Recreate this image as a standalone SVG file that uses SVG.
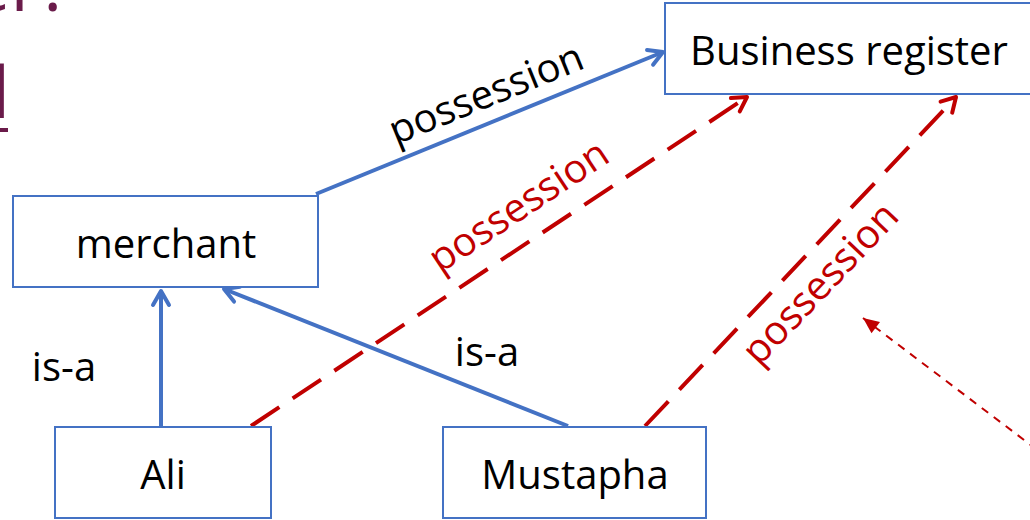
<svg xmlns="http://www.w3.org/2000/svg" width="1030" height="520" viewBox="0 0 1030 520">
  <style>
    .box { fill: #ffffff; stroke: #4472C4; stroke-width: 2; }
    .label { font-family: "Open Sans", "Liberation Sans", sans-serif; font-size: 40px; fill: #000000; }
    .mid { text-anchor: middle; }
    .red { fill: #C00000; }
    .title { font-family: "Open Sans", "Liberation Sans", sans-serif; font-size: 72px; fill: #6A1B4A; }
    .isa { stroke: #4472C4; stroke-width: 4; fill: none; }
    .own { stroke: #C00000; stroke-width: 4; fill: none; stroke-dasharray: 34 16; }
    .hint { stroke: #C00000; stroke-width: 2; fill: none; stroke-dasharray: 8 7; }
  </style>
  <defs>
    <marker id="openBlue" markerUnits="userSpaceOnUse" markerWidth="24" markerHeight="24" refX="18" refY="12" orient="auto">
      <path d="M4,4 L18,12 L4,20" fill="none" stroke="#4472C4" stroke-width="4" stroke-linecap="round" stroke-linejoin="round"/>
    </marker>
    <marker id="openRed" markerUnits="userSpaceOnUse" markerWidth="24" markerHeight="24" refX="18" refY="12" orient="auto">
      <path d="M4,4 L18,12 L4,20" fill="none" stroke="#C00000" stroke-width="4" stroke-dasharray="none" stroke-linecap="round" stroke-linejoin="round"/>
    </marker>
    <marker id="solidRed" markerUnits="userSpaceOnUse" markerWidth="20" markerHeight="20" refX="17" refY="10" orient="auto">
      <path d="M1,3 L17,10 L1,17 Z" fill="#C00000" stroke="none"/>
    </marker>
  </defs>

  <!-- slide title, cut by the frame -->
  <g id="title">
    <text class="title" x="71" y="11" text-anchor="end">er?</text>
    <text class="title" x="10" y="118" text-anchor="end">d</text>
    <line x1="0" y1="130" x2="8" y2="130" stroke="#6A1B4A" stroke-width="4"/>
  </g>

  <!-- connectors -->
  <g id="connectors">
    <line class="isa" x1="316" y1="194" x2="663" y2="52" marker-end="url(#openBlue)"/>
    <line class="isa" x1="161" y1="427" x2="161" y2="291" marker-end="url(#openBlue)"/>
    <line class="isa" x1="568" y1="426" x2="224" y2="289" marker-end="url(#openBlue)"/>
    <line class="own" x1="251" y1="426" x2="747" y2="97" marker-end="url(#openRed)"/>
    <line class="own" x1="645" y1="426" x2="956" y2="97" marker-end="url(#openRed)"/>
    <line class="hint" x1="1036" y1="449" x2="863" y2="318" marker-end="url(#solidRed)"/>
  </g>

  <!-- nodes -->
  <g id="business-register">
    <rect class="box" x="665" y="3" width="372" height="91"/>
    <text class="label mid" x="849" y="65">Business register</text>
  </g>
  <g id="merchant">
    <rect class="box" x="13" y="196" width="305" height="91"/>
    <text class="label mid" x="166" y="258">merchant</text>
  </g>
  <g id="ali">
    <rect class="box" x="55" y="427" width="216" height="91"/>
    <text class="label mid" x="163" y="489">Ali</text>
  </g>
  <g id="mustapha">
    <rect class="box" x="443" y="427" width="263" height="91"/>
    <text class="label mid" x="575" y="489">Mustapha</text>
  </g>

  <!-- connector labels -->
  <g id="connector-labels">
    <text class="label mid" x="64" y="381">is-a</text>
    <text class="label mid" x="487" y="366">is-a</text>
    <text class="label mid" transform="translate(487,96) rotate(-22.1)" x="0" y="11">possession</text>
    <text class="label mid red" transform="translate(520,208) rotate(-33.4)" x="0" y="11">possession</text>
    <text class="label mid red" transform="translate(822,285) rotate(-46.4)" x="0" y="11">possession</text>
  </g>
</svg>
